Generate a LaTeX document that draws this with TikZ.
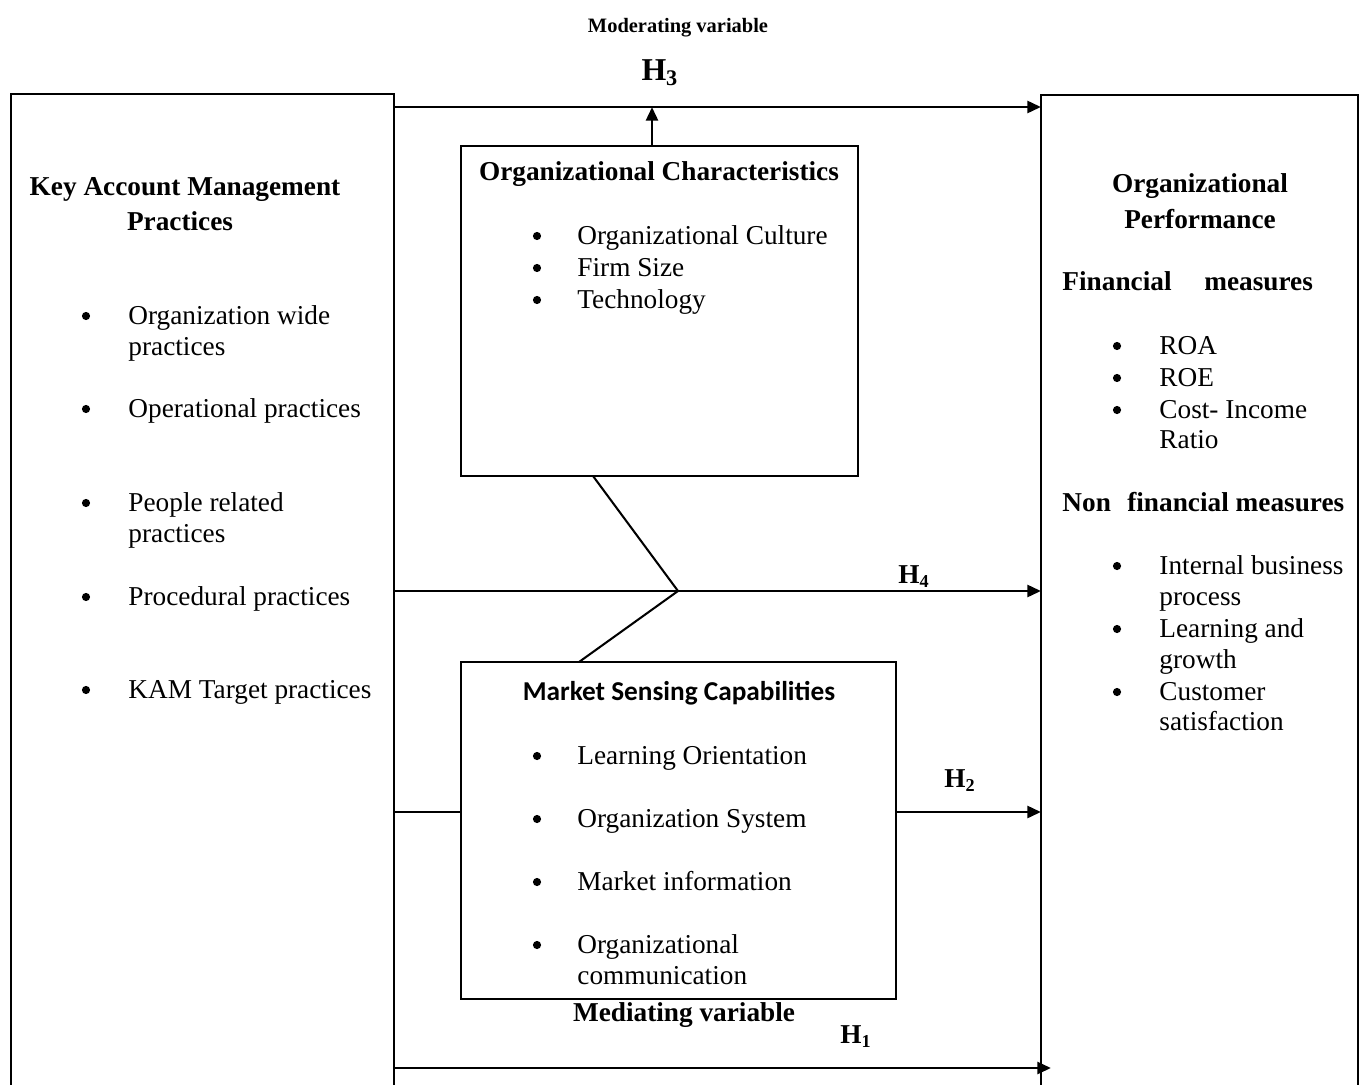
\documentclass[tikz,border=0pt]{standalone}
\usepackage{fontspec}
\setmainfont{Liberation Serif}
\newfontfamily\calfont{Carlito}
\usetikzlibrary{arrows.meta}

\begin{document}
\begin{tikzpicture}[x=0.44pt, y=-0.44pt,
    txt/.style={inner sep=0pt, anchor=mid west, yshift=-1.6pt, font=\fontsize{12}{14}\selectfont},
    bul/.style={circle, fill, inner sep=0pt, minimum size=3.6pt},
    ttl/.style={inner sep=0pt, anchor=mid, yshift=-1.6pt, font=\fontsize{12}{14}\selectfont\bfseries},
    hyp/.style={inner sep=0pt, anchor=mid, yshift=-1.6pt, font=\fontsize{12}{14}\selectfont\bfseries},
    box/.style={line width=0.9pt},
    arr/.style={line width=1.3pt, -{Triangle[length=6pt,width=5.2pt]}}]
    \useasboundingbox (0,0) rectangle (1363,1084);
    \clip (0,0) rectangle (1363,1084);
    % boxes
    \coordinate (kamA) at (11,94);
    \coordinate (kamB) at (394,1110);
    \coordinate (perfA) at (1041,95);
    \coordinate (perfB) at (1358,1110);
    \coordinate (ocA) at (461,146);
    \coordinate (ocB) at (858,476);
    \coordinate (msA) at (461,662);
    \coordinate (msB) at (896,999);
    \draw[box] (kamA) rectangle (kamB);
    \draw[box] (perfA) rectangle (perfB);
    \draw[box] (ocA) rectangle (ocB);
    \draw[box] (msA) rectangle (msB);
    % connectors
    \coordinate (h3s) at (394,107);
    \coordinate (h3e) at (1041,107);
    \coordinate (ocTop) at (652,146);
    \coordinate (ocBot) at (593,476);
    \coordinate (jn) at (678,591);
    \coordinate (msTop) at (579,662);
    \coordinate (h4s) at (394,591);
    \coordinate (h4e) at (1041,591);
    \coordinate (h2s) at (394,812);
    \coordinate (msL) at (461,812);
    \coordinate (msR) at (896,812);
    \coordinate (h2e) at (1041,812);
    \coordinate (h1s) at (394,1068);
    \coordinate (h1e) at (1051,1068);
    \draw[arr] (h3s) -- (h3e);
    \draw[arr] (ocTop) -- (ocTop |- h3s);
    \draw[line width=0.9pt] (ocBot) -- (jn) -- (msTop);
    \draw[arr] (h4s) -- (h4e);
    \draw[line width=0.9pt] (h2s) -- (msL);
    \draw[arr] (msR) -- (h2e);
    \draw[arr] (h1s) -- (h1e);
    % labels
    \node[hyp, font=\fontsize{9}{11}\selectfont\bfseries] (mod) at (678,24) {Moderating variable};
    \node[hyp, font=\fontsize{14}{16}\selectfont\bfseries] (h3) at (660,72) {H\textsubscript{3}};
    \node[hyp] (h4) at (914,575) {H\textsubscript{4}};
    \node[hyp] (h2) at (960,779) {H\textsubscript{2}};
    \node[hyp] (h1) at (856,1035) {H\textsubscript{1}};
    \node[ttl] (med) at (684,1013) {Mediating variable};
    % key account management
    \node[ttl] (kam1) at (185,187) {Key Account Management};
    \node[ttl] (kam2) at (180,222) {Practices};
    \foreach \y/\t [count=\i] in {316/Organization wide, 347/practices, 409/Operational practices,
        503/People related, 534/practices, 597/Procedural practices, 690/KAM Target practices}
        \node[txt] (kamt\i) at (128,\y) {\t};
    \foreach \y [count=\i] in {316,409,503,597,690}
        \node[bul] (kamb\i) at (86,\y) {};
    % organizational characteristics
    \node[ttl] (oc) at (659,172) {Organizational Characteristics};
    \foreach \y/\t [count=\i] in {236/Organizational Culture, 268/Firm Size, 300/Technology} {
        \node[bul] (ocb\i) at (537,\y) {};
        \node[txt] (oct\i) at (577,\y) {\t};
    }
    % market sensing capabilities
    \node[ttl, font=\fontsize{12}{14}\calfont\bfseries] (ms) at (679,692) {Market Sensing Capabilities};
    \foreach \y/\t [count=\i] in {756/Learning Orientation, 819/Organization System,
        882/Market information, 945/Organizational, 976/communication}
        \node[txt] (mst\i) at (577,\y) {\t};
    \foreach \y [count=\i] in {756,819,882,945}
        \node[bul] (msb\i) at (537,\y) {};
    % organizational performance
    \node[ttl] (op1) at (1200,184) {Organizational};
    \node[ttl] (op2) at (1200,220) {Performance};
    \node[ttl, anchor=mid west] (fin) at (1062,282) {Financial\hspace{1.2em}measures};
    \foreach \y/\t [count=\i] in {346/ROA, 378/ROE, 410/Cost- Income, 440/Ratio}
        \node[txt] (fint\i) at (1159,\y) {\t};
    \foreach \y [count=\i] in {346,378,410}
        \node[bul] (finb\i) at (1117,\y) {};
    \node[ttl, anchor=mid west] (nfin) at (1062,503) {Non\hspace{0.6em}financial measures};
    \foreach \y/\t [count=\i] in {566/Internal business, 597/process, 629/Learning and,
        660/growth, 692/Customer, 722/satisfaction}
        \node[txt] (nfint\i) at (1159,\y) {\t};
    \foreach \y [count=\i] in {566,629,692}
        \node[bul] (nfinb\i) at (1117,\y) {};
\end{tikzpicture}
\end{document}
